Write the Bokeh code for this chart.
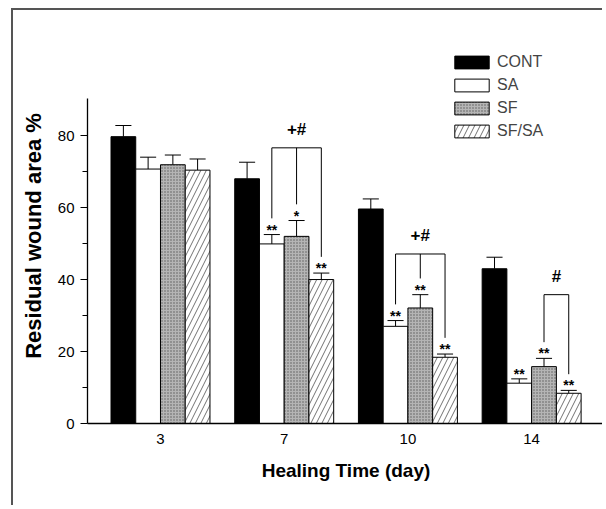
from bokeh.plotting import figure
from bokeh.models import Range1d, FixedTicker, Legend, LegendItem, ColumnDataSource
from bokeh.core.properties import value
from bokeh.embed import file_html
from bokeh.resources import INLINE

# ---- data ----
days = ["3", "7", "10", "14"]
groups = ["CONT", "SA", "SF", "SF/SA"]
cont = [79.7, 68.0, 59.6, 43.0]
sa = [70.7, 49.9, 27.0, 11.2]
sf = [71.9, 52.0, 32.1, 15.8]
sfsa = [70.4, 40.0, 18.4, 8.4]
cont_err = [3.1, 4.6, 2.8, 3.2]
sa_err = [3.3, 2.6, 1.6, 1.2]
sf_err = [2.7, 4.4, 3.7, 2.3]
sfsa_err = [3.1, 1.8, 0.9, 0.8]
cont_sig = ["", "", "", ""]
sa_sig = ["", "**", "**", "**"]
sf_sig = ["", "*", "**", "**"]
sfsa_sig = ["", "**", "**", "**"]
bracket_day = ["7", "10", "14"]
bracket_from = ["SA", "SA", "SF"]
bracket_top = [76.6, 47.1, 35.8]
bracket_text = ["+#", "+#", "#"]
y_ticks = [0, 20, 40, 60, 80]
y_minor = [10, 30, 50, 70]
y_axis_max = 90.3

FONT = value("Liberation Sans")

p = figure(width=591, height=497, output_backend="svg", toolbar_location=None,
           x_range=Range1d(-0.590, 3.589), y_range=Range1d(0, 104.2),
           min_border_left=74, min_border_right=0, min_border_top=38,
           min_border_bottom=84)
p.outline_line_color = None
p.grid.visible = False
p.styles = {"margin-left": "11px", "margin-top": "8px",
            "border-left": "2px solid #555", "border-top": "2px solid #555"}

width = 0.2
offsets = [-0.3, -0.1, 0.1, 0.3]
values = [cont, sa, sf, sfsa]
errs = [cont_err, sa_err, sf_err, sfsa_err]
sigs = [cont_sig, sa_sig, sf_sig, sfsa_sig]
styles = [
    dict(fill_color="black"),
    dict(fill_color="white"),
    dict(fill_color="#b5b5b5", hatch_pattern="dot", hatch_color="#5a5a5a",
         hatch_scale=3, hatch_weight=0.6),
    dict(fill_color="white", hatch_pattern="right_diagonal_line", hatch_color="#333333",
         hatch_scale=11, hatch_weight=0.7),
]

renderers = []
centers = {}
tops = {}
for g, off, vals, er, sg, st in zip(groups, offsets, values, errs, sigs, styles):
    xs = [i + off for i in range(len(days))]
    centers[g] = xs
    top = [v + e for v, e in zip(vals, er)]
    tops[g] = top
    src = ColumnDataSource(dict(x=xs, top=vals, etop=top, sig=sg,
                                xl=[x - 0.065 for x in xs], xr=[x + 0.065 for x in xs]))
    p.segment(x0="x", y0="top", x1="x", y1="etop", source=src, line_color="black", line_width=1)
    p.segment(x0="xl", y0="etop", x1="xr", y1="etop", source=src, line_color="black", line_width=1)
    r = p.vbar(x="x", top="top", width=width, source=src, line_color="black", line_width=1, **st)
    renderers.append(r)
    p.text(x="x", y="etop", text="sig", source=src, text_font=FONT, text_font_style="bold",
           text_font_size="14px", text_align="center", text_baseline="bottom", y_offset=3,
           text_color="black")

leg = 4.5
for d, frm, bt, bl in zip(bracket_day, bracket_from, bracket_top, bracket_text):
    i = days.index(d)
    members = groups[groups.index(frm):]
    xs = [centers[m][i] for m in members]
    ys = [tops[m][i] + leg for m in members]
    p.segment(x0=[xs[0]], y0=[bt], x1=[xs[-1]], y1=[bt], line_color="black", line_width=1)
    p.segment(x0=xs, y0=[bt] * len(xs), x1=xs, y1=ys, line_color="black", line_width=1)
    p.text(x=[(xs[0] + xs[-1]) / 2], y=[bt], text=[bl], text_font=FONT, text_font_style="bold",
           text_font_size="17px", text_align="center", text_baseline="bottom", y_offset=-9,
           text_color="black")

p.xaxis.ticker = FixedTicker(ticks=list(range(len(days))))
p.xaxis.major_label_overrides = {i: d for i, d in enumerate(days)}
p.xaxis.major_tick_out = 0
p.xaxis.major_tick_in = 0
p.xaxis.minor_tick_out = 0
p.xaxis.minor_tick_in = 0
p.xaxis.major_label_standoff = 10
p.xaxis.axis_label = "Healing Time (day)"
p.xaxis.axis_label_standoff = 13

p.yaxis.ticker = FixedTicker(ticks=y_ticks, minor_ticks=y_minor)
p.yaxis.bounds = (0, y_axis_max)
p.yaxis.major_tick_out = 7
p.yaxis.major_tick_in = 0
p.yaxis.minor_tick_out = 5
p.yaxis.minor_tick_in = 0
p.yaxis.major_label_standoff = 6
p.yaxis.axis_label = "Residual wound area %"
p.yaxis.axis_label_standoff = 9

for ax in (p.xaxis, p.yaxis):
    ax.axis_line_color = "black"
    ax.axis_line_width = 1.3
    ax.major_tick_line_color = "black"
    ax.minor_tick_line_color = "black"
    ax.major_label_text_font = "Liberation Sans"
    ax.major_label_text_font_size = "15px"
    ax.major_label_text_color = "black"
    ax.axis_label_text_font = "Liberation Sans"
    ax.axis_label_text_font_style = "bold"
    ax.axis_label_text_color = "black"
p.xaxis.axis_label_text_font_size = "19px"
p.yaxis.axis_label_text_font_size = "22px"

legend = Legend(items=[LegendItem(label=g, renderers=[r]) for g, r in zip(groups, renderers)],
                location=(363, 283), glyph_width=43, glyph_height=16, spacing=5,
                label_standoff=4, padding=0, margin=0, border_line_color=None,
                background_fill_alpha=0, label_text_font="Liberation Sans",
                label_text_font_size="16px", label_height=16)
p.add_layout(legend)

open("out.html", "w").write(file_html(p, INLINE))
